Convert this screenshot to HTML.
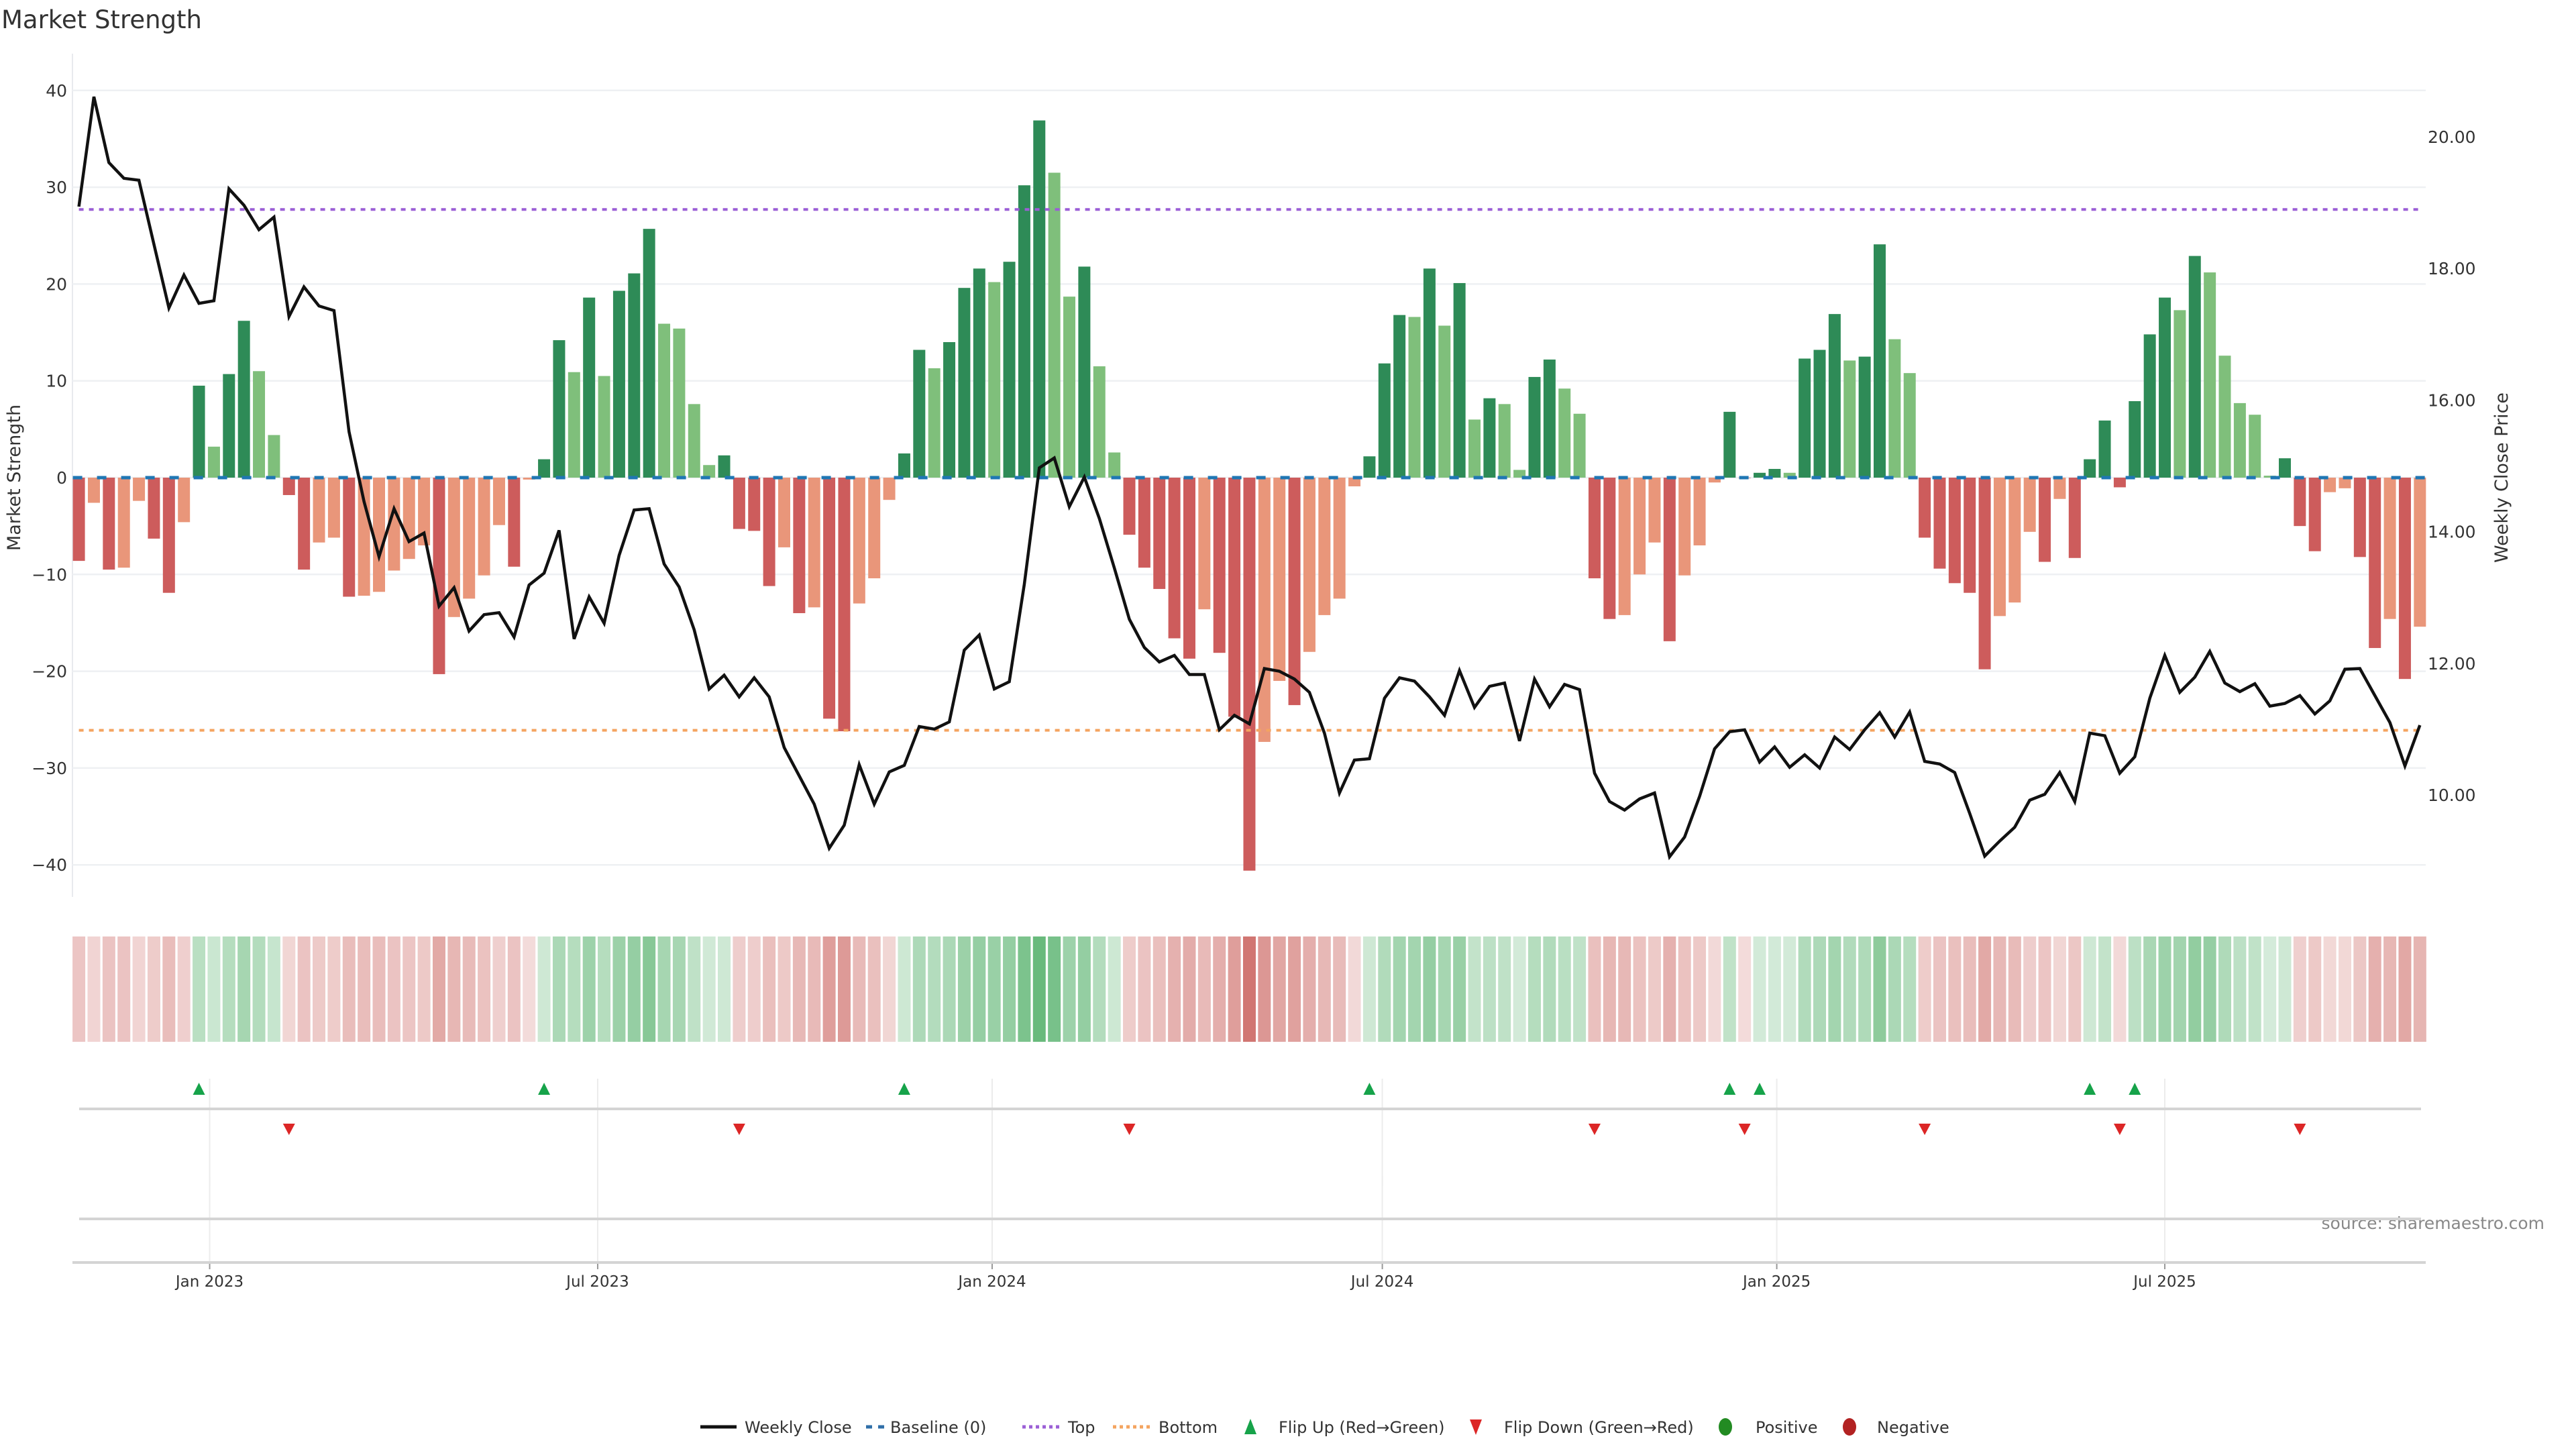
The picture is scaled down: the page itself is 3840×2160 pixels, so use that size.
<!DOCTYPE html>
<html><head><meta charset="utf-8"><title>Market Strength</title>
<style>
html,body{margin:0;padding:0;background:#fff;}
svg{display:block;font-family:"DejaVu Sans","Liberation Sans",sans-serif;}
</style></head>
<body>
<svg id="chart" xmlns="http://www.w3.org/2000/svg" width="3840" height="2160" viewBox="0 0 3840 2160">
<rect x="0" y="0" width="3840" height="2160" fill="#fff"/>
<text x="2" y="42" font-size="37" fill="#333">Market Strength</text>
<text transform="translate(30,712) rotate(-90)" text-anchor="middle" font-size="27" fill="#333">Market Strength</text>
<text transform="translate(3738,712) rotate(-90)" text-anchor="middle" font-size="27" fill="#333">Weekly Close Price</text>
<text x="3793" y="1832" text-anchor="end" font-size="25" fill="#888">source: sharemaestro.com</text>
<g id="grid"></g><g id="bars"></g><g id="lines"></g><g id="heat"></g><g id="markers"></g><g id="xaxis"></g><g id="legend"></g>
</svg>
<script>
const strength = [-8.6,-2.6,-9.5,-9.3,-2.4,-6.3,-11.9,-4.6,9.5,3.2,10.7,16.2,11.0,4.4,-1.8,-9.5,-6.7,-6.2,-12.3,-12.2,
-11.8,-9.6,-8.4,-7.0,-20.3,-14.4,-12.5,-10.1,-4.9,-9.2,-0.2,1.9,14.2,10.9,18.6,10.5,19.3,21.1,25.7,15.9,
15.4,7.6,1.3,2.3,-5.3,-5.5,-11.2,-7.2,-14.0,-13.4,-24.9,-26.2,-13.0,-10.4,-2.3,2.5,13.2,11.3,14.0,19.6,
21.6,20.2,22.3,30.2,36.9,31.5,18.7,21.8,11.5,2.6,-5.9,-9.3,-11.5,-16.6,-18.7,-13.6,-18.1,-24.7,-40.6,-27.3,
-21.0,-23.5,-18.0,-14.2,-12.5,-0.9,2.2,11.8,16.8,16.6,21.6,15.7,20.1,6.0,8.2,7.6,0.8,10.4,12.2,9.2,
6.6,-10.4,-14.6,-14.2,-10.0,-6.7,-16.9,-10.1,-7.0,-0.5,6.8,-0.05,0.5,0.9,0.5,12.3,13.2,16.9,12.1,12.5,
24.1,14.3,10.8,-6.2,-9.4,-10.9,-11.9,-19.8,-14.3,-12.9,-5.6,-8.7,-2.2,-8.3,1.9,5.9,-1.0,7.9,14.8,18.6,
17.3,22.9,21.2,12.6,7.7,6.5,0.2,2.0,-5.0,-7.6,-1.5,-1.1,-8.2,-17.6,-14.6,-20.8,-15.4];
const closePrice = [18.94,20.61,19.61,19.37,19.34,18.37,17.40,17.90,17.47,17.51,19.21,18.96,18.59,18.78,17.27,17.72,17.43,17.36,15.52,14.46,
13.62,14.35,13.85,13.98,12.87,13.15,12.49,12.74,12.77,12.40,13.19,13.37,14.02,12.37,13.01,12.61,13.64,14.33,14.35,13.51,
13.16,12.51,11.61,11.82,11.49,11.78,11.49,10.72,10.29,9.86,9.19,9.54,10.46,9.86,10.35,10.45,11.04,11.00,11.11,12.20,
12.43,11.61,11.72,13.20,14.97,15.12,14.38,14.83,14.20,13.45,12.67,12.24,12.02,12.12,11.83,11.83,10.99,11.21,11.08,11.92,
11.88,11.76,11.56,10.94,10.03,10.53,10.55,11.47,11.78,11.73,11.49,11.21,11.89,11.33,11.65,11.70,10.82,11.76,11.34,11.68,
11.60,10.33,9.90,9.77,9.94,10.03,9.06,9.36,9.98,10.70,10.96,10.99,10.50,10.73,10.42,10.61,10.41,10.88,10.69,10.99,
11.25,10.88,11.26,10.51,10.47,10.34,9.72,9.07,9.30,9.51,9.92,10.01,10.34,9.90,10.94,10.90,10.33,10.58,11.47,12.12,
11.56,11.79,12.18,11.70,11.57,11.69,11.35,11.39,11.51,11.23,11.43,11.91,11.92,11.51,11.10,10.44,11.06];
const strengthTicks = [40,30,20,10,0,-10,-20,-30,-40];
const priceTicks = [10,12,14,16,18,20];
const topLevel = [27.7];
const bottomLevel = [-26.1];
const startDate = ["2022-11-01"];
const dateTicks = ["2023-01-01","2023-07-01","2024-01-01","2024-07-01","2025-01-01","2025-07-01"];
const dateTickLabels = ["Jan 2023","Jul 2023","Jan 2024","Jul 2024","Jan 2025","Jul 2025"];

const NS="http://www.w3.org/2000/svg";
function mk(parent,tag,attrs,text){const e=document.createElementNS(NS,tag);for(const k in attrs)e.setAttribute(k,attrs[k]);if(text!==undefined)e.textContent=text;parent.appendChild(e);return e;}
const X0=117.6, DX=22.37, BW=18;
function xIdx(i){return X0+i*DX;}
function yS(v){return 712-v*14.43;}
function yP(p){return 1185-(p-10)*98.1;}
function xDate(s){const d=(new Date(s+"T00:00:00Z")-new Date(startDate[0]+"T00:00:00Z"))/86400000;return xIdx(d/7);}
const L=108,R=3616,T=80,B=1337;
const n=strength.length;
const xl=xIdx(0)-BW/2, xr=xIdx(n-1)+BW/2;

const grid=document.getElementById('grid');
let e=mk(grid,'line',{x1:L,y1:T,x2:L,y2:B,stroke:'#e8eaee','stroke-width':2});


strengthTicks.forEach(v=>{
  let g=mk(grid,'line',{x1:L,y1:yS(v),x2:R,y2:yS(v),stroke:'#eef0f3','stroke-width':2.5});
  
  
  let t=mk(grid,'text',{x:100,y:yS(v)+9,'text-anchor':'end','font-size':25,fill:'#333'},String(v).replace('-','\u2212'));
  
  
});
priceTicks.forEach(p=>{
  let t=mk(grid,'text',{x:3619,y:yP(p)+9,'font-size':25,fill:'#333'},p.toFixed(2));
  
  
});

const bars=document.getElementById('bars');
for(let i=0;i<n;i++){
  const v=strength[i], pv=i>0?strength[i-1]:v;
  let c;
  if(v>=0) c=(v>=pv)?'#2e8b57':'#7fbf7b';
  else c=(v<=pv)?'#cd5c5c':'#e9967a';
  const y0=yS(0), y1=yS(v);
  let b=mk(bars,'rect',{x:xIdx(i)-BW/2,y:Math.min(y0,y1),width:BW,height:Math.max(Math.abs(y1-y0),0.5),fill:c});
  
  
}

const lines=document.getElementById('lines');
e=mk(lines,'line',{x1:xl,y1:yS(0),x2:xr,y2:yS(0),stroke:'#1f77b4','stroke-width':5,'stroke-dasharray':'14 22'});


e=mk(lines,'line',{x1:xIdx(0),y1:yS(topLevel[0]),x2:xIdx(n-1),y2:yS(topLevel[0]),stroke:'#9b5fd6','stroke-width':4,'stroke-dasharray':'7 8'});


e=mk(lines,'line',{x1:xIdx(0),y1:yS(bottomLevel[0]),x2:xIdx(n-1),y2:yS(bottomLevel[0]),stroke:'#f4a460','stroke-width':4,'stroke-dasharray':'7 8'});


let pts=closePrice.map((p,i)=>xIdx(i).toFixed(1)+','+yP(p).toFixed(1)).join(' ');
e=mk(lines,'polyline',{points:pts,fill:'none',stroke:'#111','stroke-width':4.5,'stroke-linejoin':'miter'});



const heat=document.getElementById('heat');
for(let i=0;i<n;i++){
  const v=strength[i];
  const a=Math.min(0.22+0.6*Math.abs(v)/40,0.85);
  const c=v>=0?'rgb(60,165,85)':'rgb(200,90,85)';
  let h=mk(heat,'rect',{x:xIdx(i)-9.5,y:1396,width:19,height:157,fill:c,'fill-opacity':a.toFixed(2)});
  
  
}

const mkr=document.getElementById('markers');
const xa=document.getElementById('xaxis');
dateTicks.forEach((d,k)=>{
  const x=xDate(d);
  let g=mk(xa,'line',{x1:x,y1:1608,x2:x,y2:1768,stroke:'#ececec','stroke-width':2});
  
  
  g=mk(xa,'line',{x1:x,y1:1754,x2:x,y2:1881,stroke:'#ececec','stroke-width':2});
  
  
  g=mk(xa,'line',{x1:x,y1:1881,x2:x,y2:1892,stroke:'#999','stroke-width':2});
  
  
  let t=mk(xa,'text',{x:x,y:1918,'text-anchor':'middle','font-size':23,fill:'#333'},dateTickLabels[k]);
  
  
});
e=mk(xa,'line',{x1:118,y1:1653,x2:3609,y2:1653,stroke:'#d4d4d4','stroke-width':4});


e=mk(xa,'line',{x1:118,y1:1817,x2:3609,y2:1817,stroke:'#d4d4d4','stroke-width':4});


e=mk(xa,'line',{x1:L,y1:1882,x2:R,y2:1882,stroke:'#d4d4d4','stroke-width':4});


for(let i=1;i<n;i++){
  const a=strength[i-1], b=strength[i], x=xIdx(i);
  if(a<0&&b>=0){
    let t=mk(mkr,'polygon',{points:`${x-9},1632 ${x+9},1632 ${x},1614`,fill:'#16a34a'});
    
    
  } else if(a>=0&&b<0){
    let t=mk(mkr,'polygon',{points:`${x-9},1675 ${x+9},1675 ${x},1692`,fill:'#dc2626'});
    
    
  }
}

const lg=document.getElementById('legend');
const LY=2127;
function ltext(x,s,name){let t=mk(lg,'text',{x:x,y:LY+9,'font-size':24,fill:'#333'},s);}
e=mk(lg,'line',{x1:1044,y1:LY,x2:1098,y2:LY,stroke:'#111','stroke-width':5});


ltext(1110,'Weekly Close','legend-weekly-close');
e=mk(lg,'line',{x1:1291,y1:LY,x2:1318,y2:LY,stroke:'#2f6fa8','stroke-width':5,'stroke-dasharray':'9 9'});


ltext(1327,'Baseline (0)','legend-baseline');
e=mk(lg,'line',{x1:1524,y1:LY,x2:1580,y2:LY,stroke:'#9b5fd6','stroke-width':5,'stroke-dasharray':'5 5'});


ltext(1592,'Top','legend-top');
e=mk(lg,'line',{x1:1659,y1:LY,x2:1715,y2:LY,stroke:'#f4a460','stroke-width':5,'stroke-dasharray':'5 5'});


ltext(1727,'Bottom','legend-bottom');
e=mk(lg,'polygon',{points:`1855,${LY+11} 1873,${LY+11} 1864,${LY-12}`,fill:'#16a34a'});


ltext(1906,'Flip Up (Red\u2192Green)','legend-flip-up');
e=mk(lg,'polygon',{points:`2191,${LY-11} 2209,${LY-11} 2200,${LY+12}`,fill:'#dc2626'});


ltext(2242,'Flip Down (Green\u2192Red)','legend-flip-down');
e=mk(lg,'ellipse',{cx:2572,cy:LY,rx:10,ry:13,fill:'#228b22'});


ltext(2617,'Positive','legend-positive');
e=mk(lg,'ellipse',{cx:2757,cy:LY,rx:10,ry:13,fill:'#b22222'});


ltext(2798,'Negative','legend-negative');
</script>
</body></html>
